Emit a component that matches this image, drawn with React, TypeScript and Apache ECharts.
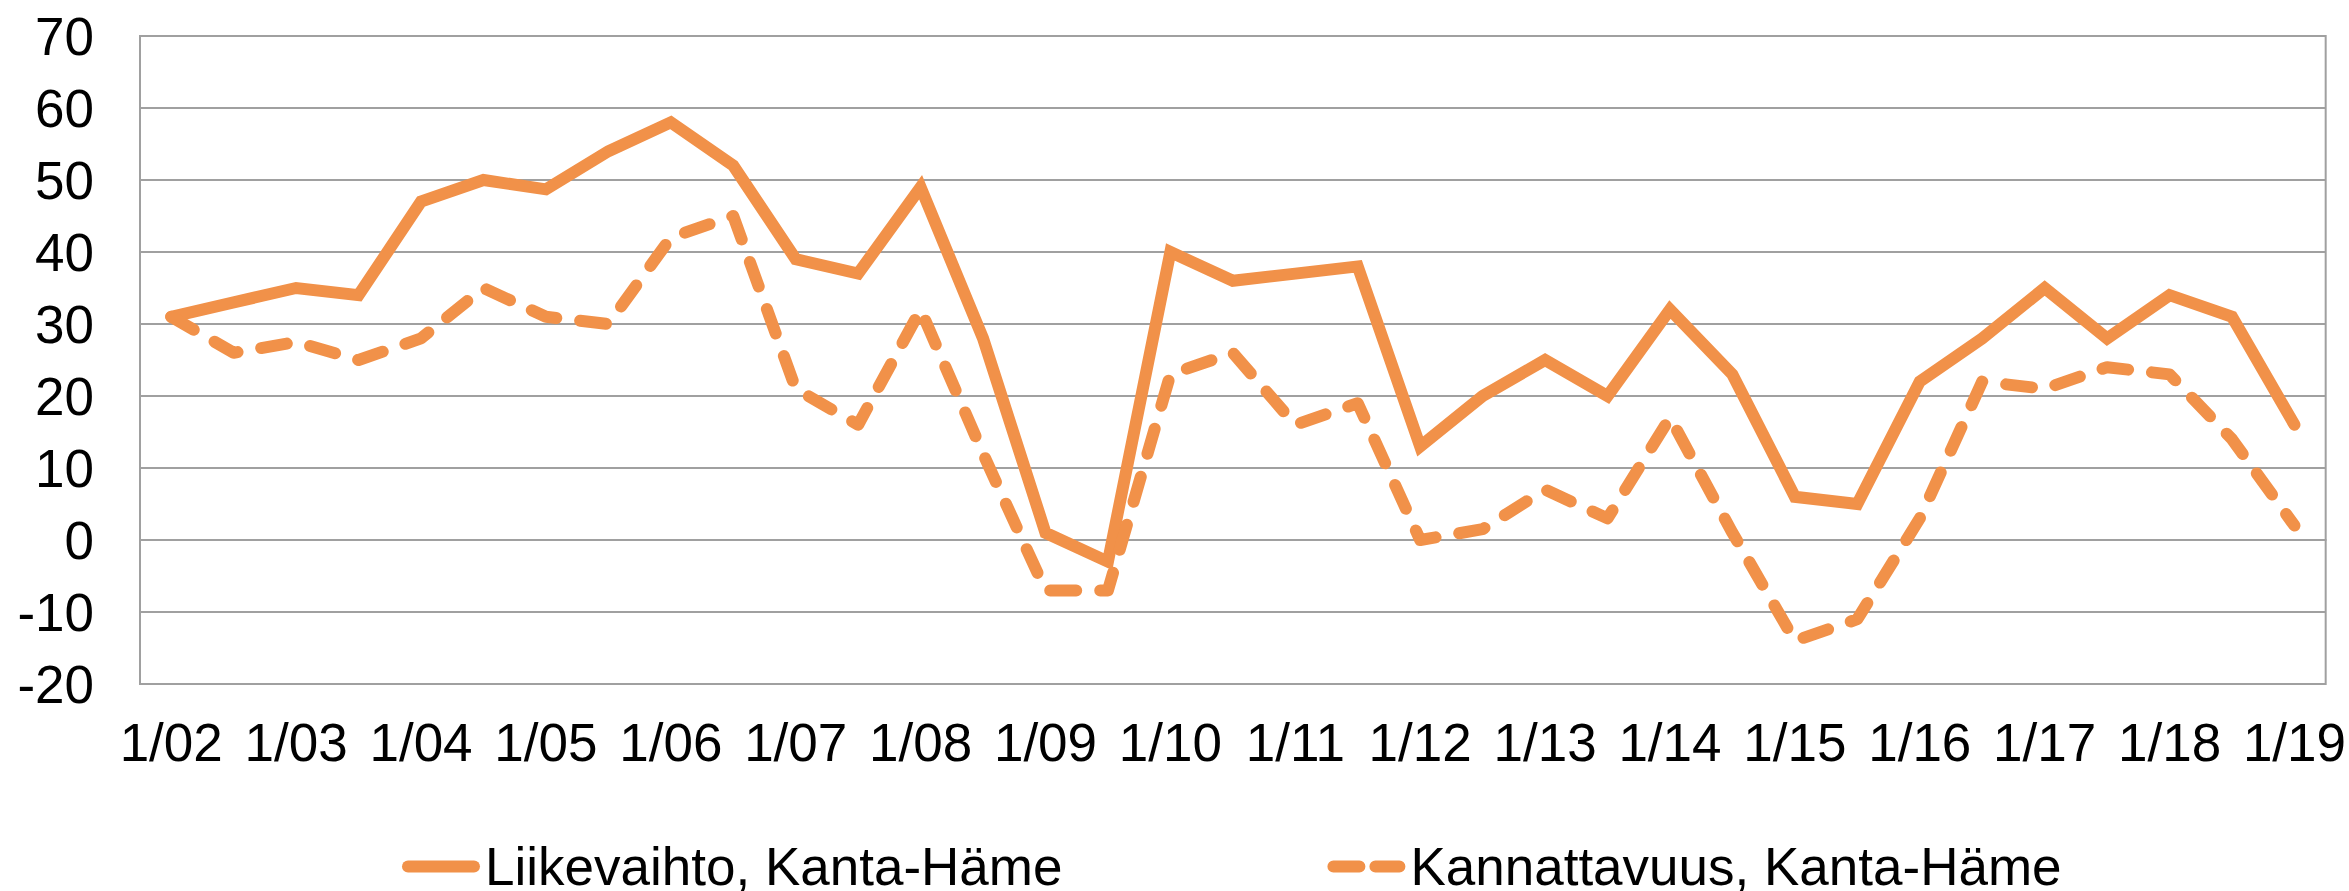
import React, { useEffect, useRef } from "react";
import * as echarts from "echarts";

const categories = [
  "1/02", "7/02", "1/03", "7/03", "1/04", "7/04", "1/05", "7/05", "1/06", "7/06",
  "1/07", "7/07", "1/08", "7/08", "1/09", "7/09", "1/10", "7/10", "1/11", "7/11",
  "1/12", "7/12", "1/13", "7/13", "1/14", "7/14", "1/15", "7/15", "1/16", "7/16",
  "1/17", "7/17", "1/18", "7/18", "1/19",
];

const liikevaihto = [
  31, 33, 35, 34, 47, 50, 48.7, 54, 58, 52,
  39, 37, 49, 28, 1, -3, 40, 36, 37, 38,
  13, 20, 25, 20, 32, 23, 6, 5, 22, 28,
  35, 28, 34, 31, 16,
];

const kannattavuus = [
  31, 26, 27.5, 25, 28, 35, 31, 30, 42, 45,
  21, 16, 32, 12, -7, -7, 23, 26, 16, 19,
  0, 1.5, 7, 3, 17, 1, -14, -11, 3, 22,
  21, 24, 23, 14, 2,
];

const seriesNames = ["Liikevaihto, Kanta-Häme", "Kannattavuus, Kanta-Häme"];

const ORANGE = "#F19149";
const GRID = "#A0A0A0";
const FONT = "Liberation Sans, Arial, sans-serif";

const SOLID_ICON =
  "path://M6,0 H72 A6,6 0 0 1 72,12 H6 A6,6 0 0 1 6,0 Z";
const DASH_ICON =
  "path://M6,0 H32 A6,6 0 0 1 32,12 H6 A6,6 0 0 1 6,0 Z M48,0 H72 A6,6 0 0 1 72,12 H48 A6,6 0 0 1 48,0 Z";

export default function App() {
  const ref = useRef<HTMLDivElement>(null);

  useEffect(() => {
    if (!ref.current) return;
    const chart = echarts.init(ref.current, null, { renderer: "svg" });
    chart.setOption({
      animation: false,
      backgroundColor: "#ffffff",
      grid: {
        left: 140,
        right: 21,
        top: 36,
        bottom: 207,
        show: true,
        borderColor: GRID,
        borderWidth: 2,
        containLabel: false,
      },
      legend: {
        left: 402,
        top: 840,
        padding: 0,
        itemWidth: 78,
        itemHeight: 12,
        itemGap: 265,
        textStyle: {
          fontSize: 53,
          color: "#000",
          fontFamily: FONT,
          lineHeight: 40,
        },
        itemStyle: { color: ORANGE },
        data: [
          { name: seriesNames[0], icon: SOLID_ICON },
          { name: seriesNames[1], icon: DASH_ICON },
        ],
      },
      xAxis: {
        type: "category",
        data: categories,
        boundaryGap: true,
        axisLine: { show: true, lineStyle: { color: GRID, width: 2 } },
        axisTick: { show: false },
        axisLabel: {
          interval: 1,
          fontSize: 53,
          color: "#000",
          fontFamily: FONT,
          margin: 32,
        },
        splitLine: { show: false },
      },
      yAxis: {
        type: "value",
        min: -20,
        max: 70,
        interval: 10,
        axisLine: { show: true, lineStyle: { color: GRID, width: 2 } },
        axisTick: { show: false },
        axisLabel: {
          fontSize: 53,
          color: "#000",
          fontFamily: FONT,
          margin: 46,
        },
        splitLine: { show: true, lineStyle: { color: GRID, width: 2 } },
      },
      series: [
        {
          name: seriesNames[0],
          type: "line",
          data: liikevaihto,
          symbol: "none",
          showSymbol: false,
          color: ORANGE,
          lineStyle: { color: ORANGE, width: 12, cap: "round", join: "miter" },
        },
        {
          name: seriesNames[1],
          type: "line",
          data: kannattavuus,
          symbol: "none",
          showSymbol: false,
          color: ORANGE,
          lineStyle: {
            color: ORANGE,
            width: 12,
            type: [26, 24],
            cap: "round",
            join: "round",
          },
        },
      ],
    });
    return () => chart.dispose();
  }, []);

  return (
    <div
      ref={ref}
      style={{ position: "fixed", left: 0, top: 0, width: 2349, height: 891 }}
    />
  );
}
